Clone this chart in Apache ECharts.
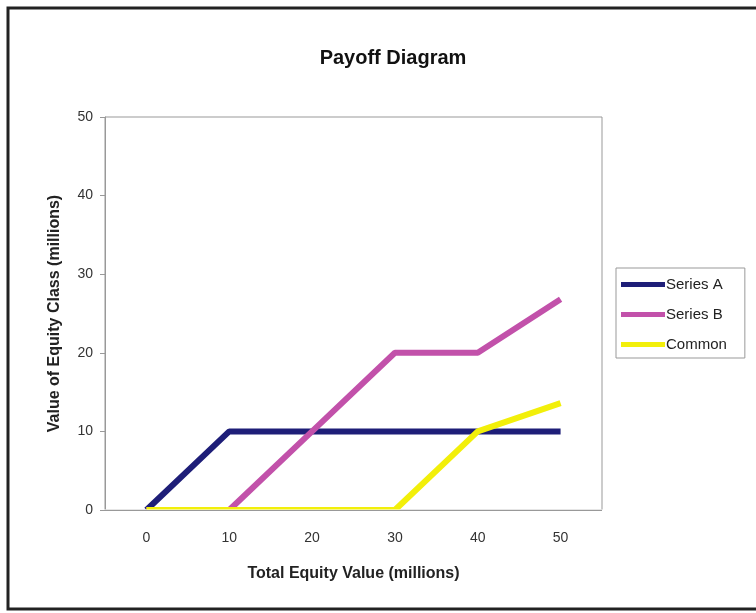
<!DOCTYPE html>
<html>
<head>
<meta charset="utf-8">
<script src="https://cdn.jsdelivr.net/npm/echarts@6/dist/echarts.min.js"></script>
<style>
  html, body { margin: 0; padding: 0; background: #fff; }
  #chart { width: 756px; height: 613px; }
</style>
</head>
<body>
<div id="chart"></div>
<script>
const categories = ['0', '10', '20', '30', '40', '50']
const seriesA = [0, 10, 10, 10, 10, 10]
const seriesB = [0, 0, 10, 20, 20, 26.8]
const common = [0, 0, 0, 0, 10, 13.6]

const font = 'Liberation Sans, Arial, sans-serif'

function line(name, data, color) {
  return {
    name: name,
    type: 'line',
    data: data,
    symbol: 'none',
    lineStyle: { color: color, width: 6 },
    itemStyle: { color: color },
    animation: false
  }
}

const chart = echarts.init(document.getElementById('chart'))
chart.setOption({
  backgroundColor: '#fff',
  title: {
    text: 'Payoff Diagram',
    left: 388,
    top: 43,
    textAlign: 'center',
    textStyle: { fontFamily: font, fontSize: 20, fontWeight: 'bold', color: '#111' }
  },
  graphic: [
    {
      type: 'rect',
      shape: { x: 8, y: 8, width: 800, height: 601 },
      style: { fill: 'none', stroke: '#222', lineWidth: 3 },
      silent: true
    },
    {
      // hide the lower half of lines lying on the x axis
      type: 'rect',
      z: 10,
      shape: { x: 100, y: 509.5, width: 506, height: 7 },
      style: { fill: '#fff' },
      silent: true
    },
    {
      type: 'line',
      z: 11,
      shape: { x1: 100, y1: 510.5, x2: 602, y2: 510.5 },
      style: { stroke: '#999', lineWidth: 1 },
      silent: true
    }
  ],
  legend: {
    orient: 'vertical',
    left: 616,
    top: 268,
    itemWidth: 44,
    itemHeight: 5,
    itemGap: 15,
    padding: [9, 18, 6, 5],
    borderColor: '#999',
    borderWidth: 1,
    icon: 'rect',
    textStyle: { fontFamily: font, fontSize: 15, color: '#222', padding: [0, 0, 0, -4] },
    data: ['Series A', 'Series B', 'Common']
  },
  grid: {
    left: 105,
    top: 117,
    width: 497,
    height: 393,
    show: true,
    borderColor: '#999',
    borderWidth: 1
  },
  xAxis: {
    type: 'category',
    data: categories,
    boundaryGap: true,
    name: 'Total Equity Value (millions)',
    nameLocation: 'middle',
    nameGap: 56,
    nameTextStyle: { fontFamily: font, fontSize: 16, fontWeight: 'bold', color: '#222' },
    axisLine: { lineStyle: { color: '#999' } },
    axisTick: { show: false },
    axisLabel: { fontFamily: font, fontSize: 14, color: '#333', margin: 21 }
  },
  yAxis: {
    type: 'value',
    min: 0,
    max: 50,
    interval: 10,
    name: 'Value of Equity Class (millions)',
    nameLocation: 'middle',
    nameGap: 42,
    nameTextStyle: { fontFamily: font, fontSize: 16, fontWeight: 'bold', color: '#222' },
    axisLine: { show: true, lineStyle: { color: '#999' } },
    axisTick: { show: true, inside: false, length: 5, lineStyle: { color: '#999' } },
    axisLabel: { fontFamily: font, fontSize: 14, color: '#333', margin: 12 },
    splitLine: { show: false }
  },
  series: [
    line('Series A', seriesA, '#1e1e78'),
    line('Series B', seriesB, '#c251aa'),
    line('Common', common, '#f2ef0a')
  ]
})
</script>
</body>
</html>
